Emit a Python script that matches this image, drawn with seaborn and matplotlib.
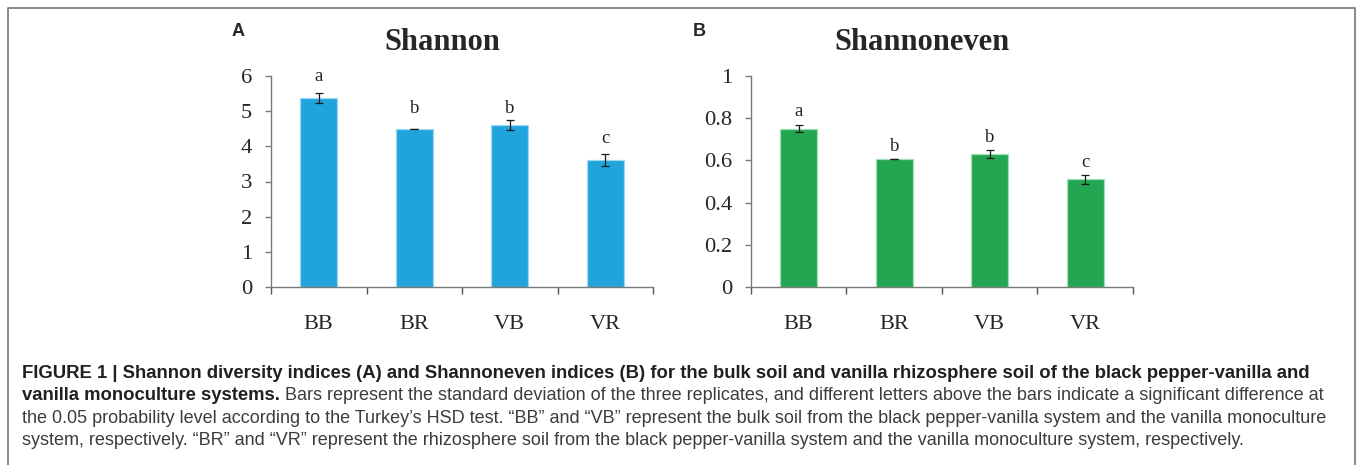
import numpy as np
import pandas as pd
import seaborn as sns
import matplotlib.pyplot as plt
from matplotlib.lines import Line2D
from matplotlib.ticker import FuncFormatter, MultipleLocator

# data
groups = ["BB", "BR", "VB", "VR"]
shannon = [5.37, 4.49, 4.60, 3.61]
shannon_sd = [0.14, 0.01, 0.14, 0.16]
shannon_letters = ["a", "b", "b", "c"]
shannon_letter_y = [5.86, 4.95, 4.95, 4.09]

even = [0.750, 0.607, 0.630, 0.510]
even_sd = [0.017, 0.002, 0.020, 0.021]
even_letters = ["a", "b", "b", "c"]
even_letter_y = [0.812, 0.646, 0.689, 0.570]

blue = "#21a3dc"
green = "#22a651"

sns.set_style("white")
plt.rcParams["font.family"] = ["Liberation Serif", "DejaVu Serif"]

W, H = 1357, 465
fig = plt.figure(figsize=(W / 100, H / 100), dpi=100)

def px_axes(x0, x1, ytop, ybot):
    return fig.add_axes([x0 / W, 1 - ybot / H, (x1 - x0) / W, (ybot - ytop) / H])

def panel(ax, vals, sd, letters, letter_y, color, edge, ymax, step, fmt):
    df = pd.DataFrame({"group": groups, "value": vals})
    sns.barplot(data=df, x="group", y="value", color=color, width=0.39,
                errorbar=None, ax=ax, edgecolor=edge, linewidth=0.9, saturation=1)
    pos = np.arange(len(groups))
    ax.errorbar(pos, vals, yerr=sd, fmt="none", ecolor="#1a1a1a",
                elinewidth=0.9, capsize=3, capthick=0.9)
    for p, lt, ly in zip(pos, letters, letter_y):
        ax.text(p, ly, lt, ha="center", va="baseline", fontsize=13.5, color="#222222")
    ax.set_xlim(-0.5, len(groups) - 0.5)
    ax.set_ylim(0, ymax)
    ax.yaxis.set_major_locator(MultipleLocator(step))
    ax.yaxis.set_major_formatter(FuncFormatter(fmt))
    ax.set_xlabel("")
    ax.set_ylabel("")
    for s in ["top", "right"]:
        ax.spines[s].set_visible(False)
    for s in ["left", "bottom"]:
        ax.spines[s].set_color("#7a7a7a")
        ax.spines[s].set_linewidth(1.0)
    # x ticks at category boundaries, labels centred
    ax.set_xticks(pos)
    ax.set_xticklabels(groups, fontsize=16)
    ax.set_xticks(np.arange(-0.5, len(groups)), minor=True)
    ax.tick_params(axis="x", which="major", length=0, pad=20)
    ax.tick_params(axis="x", which="minor", length=5, width=1, color="#555555",
                   direction="out", bottom=True)
    ax.tick_params(axis="y", length=4.5, width=1, color="#7a7a7a", direction="out",
                   left=True, labelsize=16.2, pad=9)

axA = px_axes(271, 653, 76, 287)
panel(axA, shannon, shannon_sd, shannon_letters, shannon_letter_y, blue, "#9fd8f2",
      6, 1, lambda v, p: "%g" % v)

axB = px_axes(751, 1133, 76, 287)
panel(axB, even, even_sd, even_letters, even_letter_y, green, "#9fe0b5",
      1, 0.2, lambda v, p: "%g" % round(v, 1))

# titles and panel letters
fig.text(442 / W, 1 - 42 / H, "Shannon", ha="center", va="center",
         fontsize=22, fontweight="bold")
fig.text(922 / W, 1 - 42 / H, "Shannoneven", ha="center", va="center",
         fontsize=22, fontweight="bold")
sans = ["Liberation Sans", "DejaVu Sans"]
fig.text(238 / W, 1 - 31 / H, "A", ha="center", va="center", fontsize=13,
         fontweight="bold", family=sans)
fig.text(699 / W, 1 - 31 / H, "B", ha="center", va="center", fontsize=13,
         fontweight="bold", family=sans)

# caption
cap_x = 22 / W
bold_size = 13.3
norm_size = 12.95
fig.text(cap_x, 1 - 373 / H,
         "FIGURE 1 | Shannon diversity indices (A) and Shannoneven indices (B) for the bulk soil "
         "and vanilla rhizosphere soil of the black pepper-vanilla and",
         ha="left", va="center", fontsize=bold_size, fontweight="bold",
         family=sans, color="#231f20")
bold2 = fig.text(cap_x, 1 - 395.5 / H, "vanilla monoculture systems.",
                 ha="left", va="center", fontsize=bold_size, fontweight="bold",
                 family=sans, color="#231f20")
fig.add_artist(plt.Annotation(
    " Bars represent the standard deviation of the three replicates, and different letters "
    "above the bars indicate a significant difference at",
    xy=(1, 0.5), xycoords=bold2, va="center", ha="left", fontsize=norm_size,
    family=sans, color="#3c3c3c"))
fig.text(cap_x, 1 - 418 / H,
         "the 0.05 probability level according to the Turkey\u2019s HSD test. \u201cBB\u201d and "
         "\u201cVB\u201d represent the bulk soil from the black pepper-vanilla system and the "
         "vanilla monoculture",
         ha="left", va="center", fontsize=norm_size, family=sans, color="#3c3c3c")
fig.text(cap_x, 1 - 440.5 / H,
         "system, respectively. \u201cBR\u201d and \u201cVR\u201d represent the rhizosphere soil "
         "from the black pepper-vanilla system and the vanilla monoculture system, respectively.",
         ha="left", va="center", fontsize=norm_size, family=sans, color="#3c3c3c")

# open-bottomed frame around the figure
fx0, fx1, fy1 = 7.5 / W, 1355 / W, 1 - 8.5 / H
fig.add_artist(Line2D([fx0, fx0, fx1, fx1], [-0.05, fy1, fy1, -0.05],
                      transform=fig.transFigure, color="#808080", lw=1.3))

fig.savefig("out.png", dpi=100)
